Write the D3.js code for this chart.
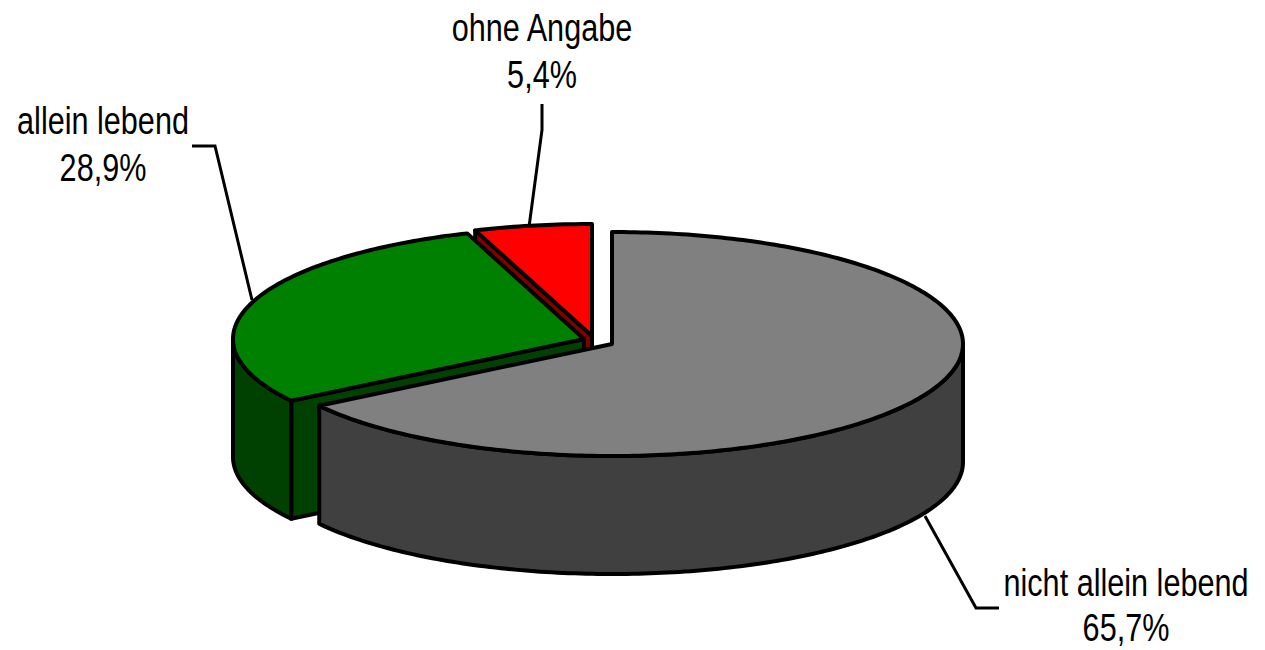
<!DOCTYPE html>
<html>
<head>
<meta charset="utf-8">
<script src="https://cdn.jsdelivr.net/npm/d3@7"></script>
<style>
html, body { margin: 0; padding: 0; background: #fff; overflow: hidden; }
text { font-family: "Liberation Sans", Arial, sans-serif; font-size: 39px; fill: #000; }
</style>
</head>
<body>
<svg id="chart" width="1265" height="650"></svg>
<script>
var categories = ["nicht allein lebend", "allein lebend", "ohne Angabe"];
var values = [65.7, 28.9, 5.4];
var valueLabels = ["65,7%", "28,9%", "5,4%"];

var topColors = ["#808080", "#008000", "#ff0000"];
var sideColors = ["#404040", "#004000", "#800000"];

var width = 1265;
var height = 650;
var radiusX = 351;
var radiusY = 112;
var depth = 118;

// centre of each slice, the slices are pulled apart
var centers = [[612, 344], [584, 339], [592, 336]];

// label position + leader line for each slice
var labelPos = [[1126, 596], [103, 134], [542, 41]];
var labelGap = [45, 47, 47]; // bottom label has to stay inside the page
var leaders = [
	[[925, 516], [976, 608], [999, 608]],
	[[252, 300], [215, 146], [192, 146]],
	[[529, 227], [542, 130], [542, 104]]
];

var svg = d3.select("#chart");

// angles run clockwise from the top
var pie = d3.pie().sort(null).value(function(d) { return d; });
var arcs = pie(values);

var line = d3.line();

function projector(center) {
	var x = d3.scaleLinear().domain([-1, 1]).range([center[0] - radiusX, center[0] + radiusX]);
	var y = d3.scaleLinear().domain([-1, 1]).range([center[1] + radiusY, center[1] - radiusY]);
	return function(angle, drop) {
		return [x(Math.sin(angle)), y(Math.cos(angle)) + (drop || 0)];
	};
}

function rim(p, a0, a1, drop) {
	var n = Math.max(2, Math.ceil((a1 - a0) * 60));
	return d3.range(n + 1).map(function(i) {
		return p(a0 + (a1 - a0) * i / n, drop);
	});
}

function drawPoly(points, fill) {
	svg.append("path")
		.attr("d", line(points) + "Z")
		.attr("fill", fill)
		.attr("stroke", "#000")
		.attr("stroke-width", 4)
		.attr("stroke-linejoin", "round");
}

// back to front: red, green, grey
[2, 1, 0].forEach(function(i) {
	var a = arcs[i];
	var c = centers[i];
	var p = projector(c);
	var from = a.startAngle;
	var to = a.endAngle;

	// cut face on the start side, only the ones looking at us
	var s = p(from);
	if (Math.cos(from) > -0.99 && from > Math.PI) {
		drawPoly([s, c, [c[0], c[1] + depth], [s[0], s[1] + depth]], sideColors[i]);
	}

	// outer wall, only the part in front of the ellipse
	var wallFrom = Math.max(from, Math.PI / 2);
	var wallTo = Math.min(to, Math.PI * 1.5);
	if (wallTo > wallFrom) {
		var upper = rim(p, wallFrom, wallTo, 0);
		var lower = rim(p, wallFrom, wallTo, depth).reverse();
		drawPoly(upper.concat(lower), sideColors[i]);
	}

	// top face
	drawPoly([c].concat(rim(p, from, to, 0)), topColors[i]);
});

// leader lines
svg.selectAll(".leader")
	.data(leaders)
	.enter()
	.append("path")
	.attr("class", "leader")
	.attr("d", function(d) { return line(d); })
	.attr("fill", "none")
	.attr("stroke", "#000")
	.attr("stroke-width", 3);

// labels, squeezed like in the original
var labels = svg.selectAll(".label")
	.data(categories)
	.enter()
	.append("g")
	.attr("class", "label")
	.attr("transform", function(d, i) {
		return "translate(" + labelPos[i][0] + "," + labelPos[i][1] + ") scale(0.785,1)";
	});

labels.append("text")
	.attr("text-anchor", "middle")
	.text(function(d) { return d; });

labels.append("text")
	.attr("text-anchor", "middle")
	.attr("y", function(d, i) { return labelGap[i]; })
	.text(function(d, i) { return valueLabels[i]; });
</script>
</body>
</html>
